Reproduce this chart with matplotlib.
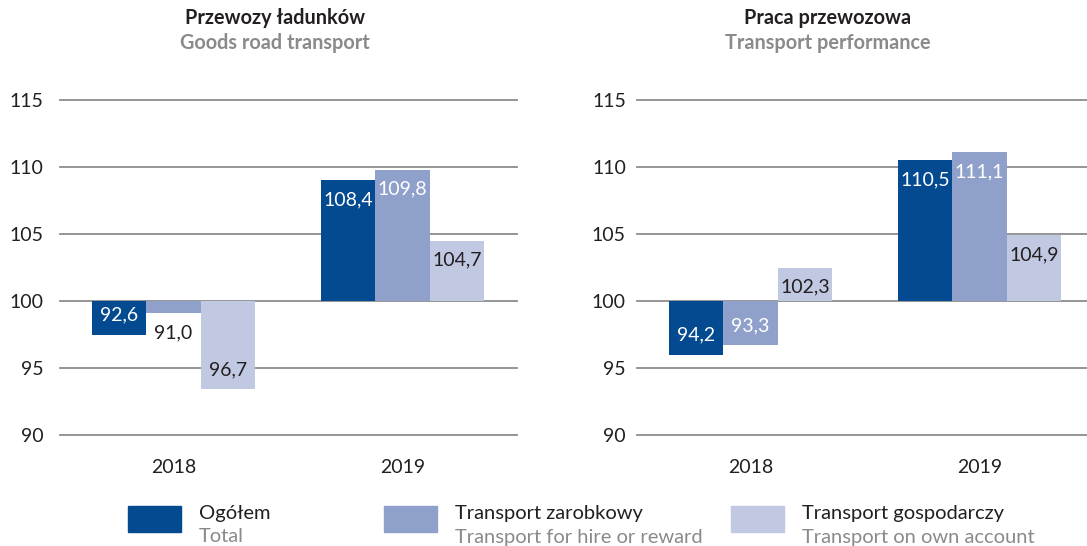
import numpy as np
import matplotlib
matplotlib.use("Agg")
from matplotlib import pyplot as plt
from matplotlib.patches import Rectangle

plt.rcParams['font.family'] = ['Lato', 'DejaVu Sans']

# dane
years = ['2018', '2019']
series_pl = ['Ogółem', 'Transport zarobkowy', 'Transport gospodarczy']
series_en = ['Total', 'Transport for hire or reward', 'Transport on own account']
colors = ['#034a91', '#8fa1cb', '#c1c8e2']
text_colors = ['white', 'white', '#231f20']

# wartosci z podpisow
goods_labels = [[92.6, 108.4], [91.0, 109.8], [96.7, 104.7]]
perf_labels = [[94.2, 110.5], [93.3, 111.1], [102.3, 104.9]]
# wysokosci slupkow (nie zgadzaja sie z podpisami)
goods_bars = [[97.5, 109.0], [99.1, 109.8], [93.4, 104.5]]
perf_bars = [[96.0, 110.5], [96.7, 111.1], [102.5, 104.9]]

titles_pl = ['Przewozy ładunków', 'Praca przewozowa']
titles_en = ['Goods road transport', 'Transport performance']

W, H = 1087, 546
fig = plt.figure(figsize=(W / 100, H / 100), dpi=100)

def px(x0, y0, w, h):
    return [x0 / W, 1 - (y0 + h) / H, w / W, h / H]

ax1 = fig.add_axes(px(60, 100, 457, 335))
ax2 = fig.add_axes(px(637, 100, 457, 335))

bw = 0.238
x = np.arange(len(years))

def draw(ax, bars, labels, ypad):
    for i in range(3):
        xs = x + (i - 1) * bw
        b = np.array(bars[i])
        ax.bar(xs, b - 100, bottom=100, width=bw, color=colors[i], zorder=2)
        for xi, end, lab in zip(xs, b, labels[i]):
            sign = 1 if end >= 100 else -1
            size_px = abs(end - 100) * 13.4
            txt = f'{lab:.1f}'.replace('.', ',')
            if size_px < 25:
                off = sign * 14
                col = '#231f20'
            else:
                off = -sign * 14
                col = text_colors[i]
            ax.annotate(txt, (xi, end), xytext=(0, off), textcoords='offset points',
                        ha='center', va='center', color=col, fontsize=14, zorder=3)
    ax.set_ylim(90, 115)
    ax.set_yticks([90, 95, 100, 105, 110, 115])
    ax.set_xlim(-0.495, 1.5)
    ax.set_xticks(x)
    ax.set_xticklabels(years)
    ax.yaxis.grid(True, color='#8c8c8c', lw=1.3, zorder=1)
    ax.set_axisbelow(True)
    for s in ax.spines.values():
        s.set_visible(False)
    ax.tick_params(axis='y', length=0, pad=ypad, labelsize=14, labelcolor='#231f20')
    ax.tick_params(axis='x', length=0, pad=17, labelsize=14, labelcolor='#231f20')
    for gl in ax.get_ygridlines():
        gl.set_clip_on(False)

draw(ax1, goods_bars, goods_labels, 12)
draw(ax2, perf_bars, perf_labels, 8)

for cx, tpl, ten in zip([275, 828], titles_pl, titles_en):
    fig.text(cx / W, 1 - 18 / H, tpl, ha='center', va='center', fontsize=14.3,
             fontweight='bold', color='#231f20')
    fig.text(cx / W, 1 - 43 / H, ten, ha='center', va='center', fontsize=14.3,
             fontweight='bold', color='#8a8a8a')

# legenda
for sx, c, tpl, ten in zip([128, 384, 731], colors, series_pl, series_en):
    fig.patches.append(Rectangle((sx / W, 1 - 532 / H), 53 / W, 26 / H,
                                 transform=fig.transFigure, color=c))
    fig.text((sx + 71) / W, 1 - 514 / H, tpl, ha='left', va='center',
             fontsize=14.5, color='#231f20')
    fig.text((sx + 71) / W, 1 - 537 / H, ten, ha='left', va='center',
             fontsize=14.5, color='#8a8a8a')

fig.savefig('out.png', dpi=100)
